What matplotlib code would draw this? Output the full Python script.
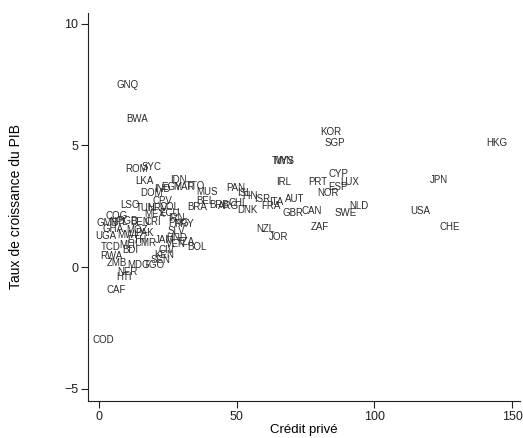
import matplotlib
matplotlib.use('Agg')
import matplotlib.pyplot as plt
from matplotlib import font_manager

# pick a narrow sans if there is one (Stata export looks condensed)
try:
    font_manager.findfont(font_manager.FontProperties(family='Liberation Sans Narrow'),
                          fallback_to_default=False)
    narrow = 'Liberation Sans Narrow'
except Exception:
    narrow = 'Liberation Sans'

countries = ['GNQ', 'BWA', 'ROM', 'SYC', 'LKA', 'IDN', 'DOM', 'IND', 'EGY', 'MAR',
             'TTO', 'MUS', 'CPV', 'LSO', 'TUN', 'HRV', 'COL', 'BRA', 'BEL', 'MEX',
             'ECU', 'COG', 'GMB', 'NPL', 'BGD', 'BEN', 'CRI', 'IRN', 'PNG', 'PRY',
             'SLV', 'GHA', 'UGA', 'MWI', 'MOZ', 'PAK', 'JAM', 'HND', 'TZA', 'VEN',
             'BOL', 'TCD', 'MLI', 'BDI', 'CMR', 'ETH', 'RWA', 'ZMB', 'MDG', 'TGO',
             'SEN', 'KEN', 'CIV', 'NER', 'HTI', 'CAF', 'COD', 'PAN', 'ISL', 'FIN',
             'BRB', 'ARG', 'CHL', 'DNK', 'ISR', 'FRA', 'ITA', 'AUT', 'GBR', 'CAN',
             'IRL', 'TWN', 'MYS', 'KOR', 'SGP', 'PRT', 'CYP', 'ESP', 'LUX', 'NOR',
             'NLD', 'SWE', 'ZAF', 'NZL', 'JOR', 'HKG', 'JPN', 'USA', 'CHE']

credit = [10.5, 13.8, 13.8, 19.3, 16.7, 28.7, 19.3, 22.9, 26.5, 30.9,
          34.9, 39.2, 22.9, 11.3, 17.1, 21.4, 25.8, 35.6, 38.5, 20.3,
          25.8, 6.5, 3.3, 7.3, 10.5, 14.9, 19.6, 28.0, 29.1, 30.9,
          28.3, 5.1, 2.5, 10.2, 13.8, 16.7, 24.0, 28.3, 31.6, 28.0,
          35.6, 4.4, 10.2, 11.3, 17.1, 13.8, 4.7, 6.5, 14.5, 20.3,
          22.2, 23.6, 24.7, 10.2, 9.1, 6.2, 1.5, 49.8, 52.7, 54.8,
          43.6, 47.2, 50.5, 53.8, 59.2, 62.5, 64.3, 71.2, 70.5, 77.4,
          67.2, 66.8, 67.2, 84.3, 85.7, 79.5, 86.8, 86.8, 91.2, 83.2,
          94.4, 89.7, 80.3, 60.3, 65.4, 144.6, 123.5, 116.6, 127.5]

growth = [7.49, 6.09, 4.04, 4.12, 3.55, 3.59, 3.05, 3.22, 3.30, 3.30,
          3.34, 3.09, 2.73, 2.56, 2.44, 2.44, 2.48, 2.48, 2.73, 2.19,
          2.23, 2.11, 1.82, 1.86, 1.90, 1.86, 1.86, 2.03, 1.82, 1.78,
          1.49, 1.57, 1.29, 1.33, 1.53, 1.41, 1.12, 1.20, 1.04, 0.96,
          0.83, 0.83, 0.92, 0.71, 1.00, 1.12, 0.46, 0.18, 0.09, 0.09,
          0.30, 0.51, 0.71, -0.19, -0.40, -0.93, -2.99, 3.26, 3.05, 2.93,
          2.56, 2.52, 2.64, 2.35, 2.81, 2.52, 2.68, 2.81, 2.23, 2.31,
          3.51, 4.37, 4.37, 5.56, 5.11, 3.51, 3.83, 3.30, 3.51, 3.05,
          2.52, 2.23, 1.66, 1.57, 1.24, 5.11, 3.59, 2.31, 1.66]

xticks = [0, 50, 100, 150]
yticks = [-5, 0, 5, 10]

fig = plt.figure(figsize=(5.23, 4.38), dpi=100)
ax = fig.add_axes([0.168, 0.0845, 0.826, 0.886])

for name, xv, yv in zip(countries, credit, growth):
    ax.text(xv, yv, name, fontsize=7, family=narrow, color='#2a2a2a',
            ha='center', va='center')

ax.set_xlim(-4, 152.8)
ax.set_ylim(-5.51, 10.45)
ax.set_xticks(xticks)
ax.set_yticks(yticks)
ax.set_xticklabels([str(t) for t in xticks], family='Liberation Sans', fontsize=9)
ax.set_yticklabels(['\u22125', '0', '5', '10'], family='Liberation Sans', fontsize=9)
ax.tick_params(direction='out', length=5, width=0.8, colors='#202020', pad=2)

for side in ['top', 'right']:
    ax.spines[side].set_visible(False)
for side in ['left', 'bottom']:
    ax.spines[side].set_linewidth(0.8)
    ax.spines[side].set_color('#202020')

ax.set_xlabel('Crédit privé', family='Liberation Sans', fontsize=9.5, labelpad=1)
ax.set_ylabel('Taux de croissance du PIB', family='Liberation Sans', fontsize=10)
ax.yaxis.set_label_coords(-0.15, 0.50)

fig.savefig('out.png', dpi=100)
